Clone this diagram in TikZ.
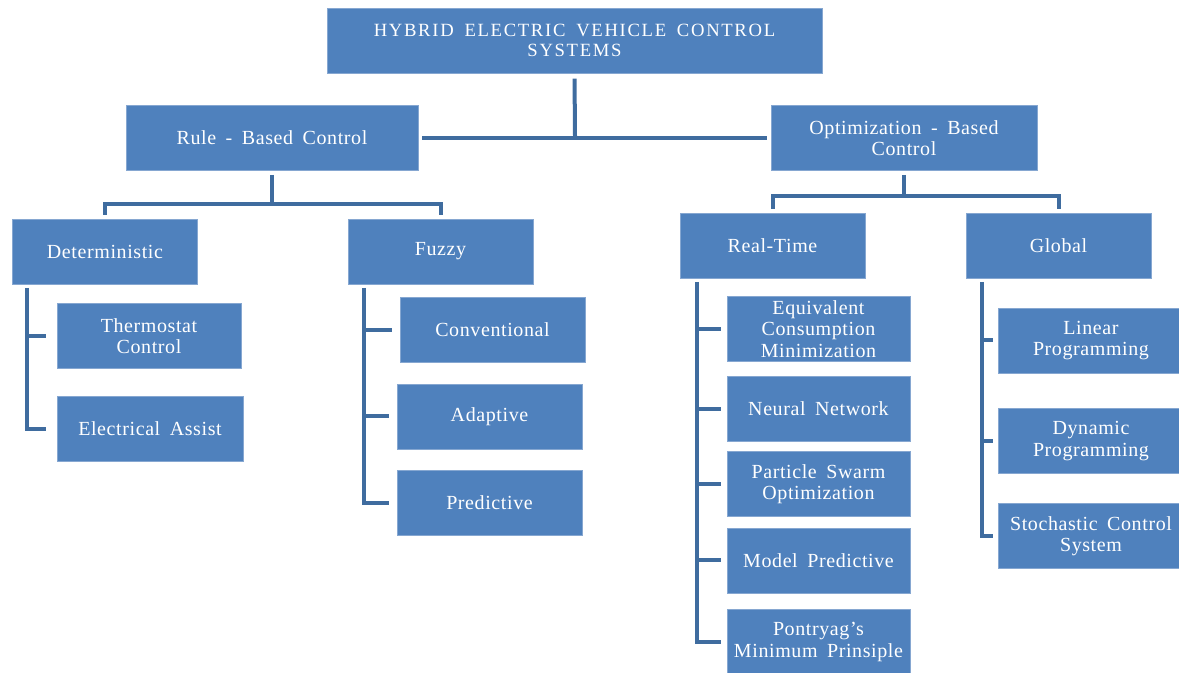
\documentclass[tikz,border=0pt]{standalone}
\usepackage{fontspec}
\setmainfont{Liberation Serif}[LetterSpace=3, WordSpace=1.7]
\usetikzlibrary{positioning}
\definecolor{BoxBlue}{HTML}{4F81BD}
\definecolor{BoxEdge}{HTML}{86A7D1}
\definecolor{LinkBlue}{HTML}{3F6C9F}

\begin{document}
\begin{tikzpicture}[
  x=0.75pt, y=-0.75pt,
  box/.style={fill=BoxBlue, draw=BoxEdge, line width=0.4pt, text=white, align=center,
    inner sep=1pt, font=\fontsize{15}{16}\selectfont,
    minimum width=138.75pt, minimum height=48.75pt},
  wd/.style={minimum width={#1*0.75pt}},
  link/.style={draw=LinkBlue, line width=3pt}
]
\useasboundingbox (0,0) rectangle (1179,673);

% top levels
\node[box, wd=495, font=\fontsize{14}{15}\selectfont\addfontfeatures{LetterSpace=9}] (hev) at (574.5,40.5) {HYBRID ELECTRIC VEHICLE CONTROL\\SYSTEMS};
\node[box, wd=292] (rule) at (272,138) {Rule - Based Control};
\node[box, wd=266] (opt) at (904,138) {Optimization - Based\\Control};

\node[box] (det) at (105,251.5) {Deterministic};
\node[box] (fuzzy) at (440.5,251.5) {Fuzzy};
\node[box] (rt) at (772.5,245.5) {Real-Time};
\node[box] (glob) at (1058.5,245.5) {Global};

% leaves
\node[box, wd=184] (thermo) at (149,336) {Thermostat\\Control};
\node[box, wd=186] (elec) at (150,429) {Electrical Assist};

\node[box] (conv) at (492.5,330) {Conventional};
\node[box] (adapt) at (489.5,416.5) {Adaptive};
\node[box] (pred) at (489.5,503) {Predictive};

\node[box, wd=183] (ecm) at (818.5,329) {Equivalent\\Consumption\\Minimization};
\node[box, wd=183] (nn) at (818.5,409) {Neural Network};
\node[box, wd=183] (pso) at (818.5,484) {Particle Swarm\\Optimization};
\node[box, wd=183] (mpc) at (818.5,560.5) {Model Predictive};
\node[box, wd=183] (pmp) at (818.5,642) {Pontryag’s\\Minimum Prinsiple};

\node[box] (lp) at (1091,340.5) {Linear\\Programming};
\node[box] (dp) at (1091,441) {Dynamic\\Programming};
\node[box] (scs) at (1091,536) {Stochastic Control\\System};

% connectors
\coordinate (hevbar) at (575,136);
\coordinate (rulebar) at (272,204);
\coordinate (optbar) at (904,196);
\draw[link, shorten <=4pt] (hev.south) -- (hevbar);
\draw[link, shorten <=3pt, shorten >=3pt] (rule.east) -- (opt.west);
\draw[link, shorten <=3pt] (rule.south) -- (rulebar);
\draw[link, shorten <=3pt, shorten >=3pt] (det.north) |- (rulebar) -| (fuzzy.north);
\draw[link, shorten <=3pt] (opt.south) -- (optbar);
\draw[link, shorten <=3pt, shorten >=3pt] (rt.north) |- (optbar) -| (glob.north);

\coordinate (detbus) at (27,288);
\coordinate (fuzzybus) at (364,288);
\coordinate (rtbus) at (697,282);
\coordinate (globbus) at (982,282);

\draw[link, shorten >=8pt] (detbus) |- (elec.west);
\draw[link, shorten >=8pt] (detbus |- thermo.west) -- (thermo.west);

\draw[link, shorten >=6pt] (fuzzybus) |- (pred.west);
\foreach \n in {conv, adapt}
  \draw[link, shorten >=6pt] (fuzzybus |- \n.west) -- (\n.west);

\draw[link, shorten >=4pt] (rtbus) |- (pmp.west);
\foreach \n in {ecm, nn, pso, mpc}
  \draw[link, shorten >=4pt] (rtbus |- \n.west) -- (\n.west);

\draw[link, shorten >=4pt] (globbus) |- (scs.west);
\foreach \n in {lp, dp}
  \draw[link, shorten >=4pt] (globbus |- \n.west) -- (\n.west);
\end{tikzpicture}
\end{document}
